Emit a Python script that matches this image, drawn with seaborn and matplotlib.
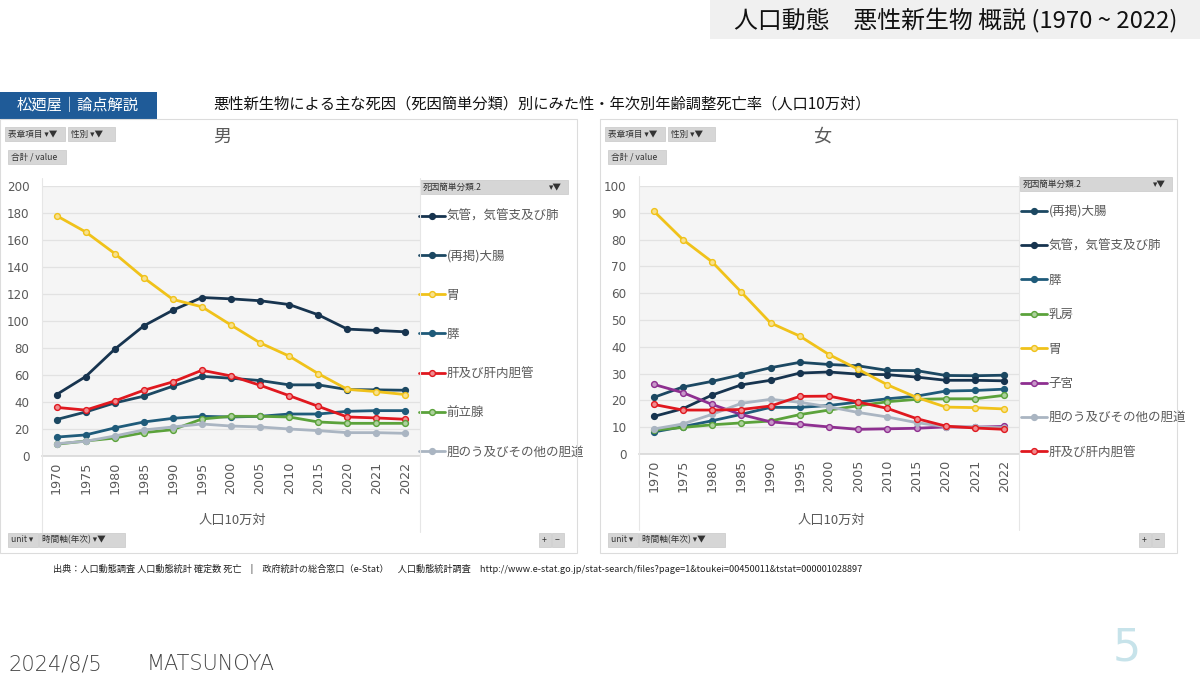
import pandas as pd
import matplotlib
matplotlib.use("Agg")
import matplotlib.pyplot as plt
import matplotlib.colors as mcolors
import seaborn as sns
from matplotlib.patches import Rectangle

# 年次（カテゴリ軸）
years = ["1970", "1975", "1980", "1985", "1990", "1995", "2000",
         "2005", "2010", "2015", "2020", "2021", "2022"]

# 男（人口10万対）
male_lung = [45.5, 58.8, 79.1, 96.4, 108.0, 117.4, 116.4, 115.0, 112.2, 104.6, 94.0, 93.0, 92.0]
male_colon = [27.0, 32.6, 39.3, 44.3, 51.7, 59.0, 57.6, 55.9, 52.7, 52.7, 49.2, 49.0, 48.7]
male_stomach = [178.0, 166.0, 150.0, 132.0, 116.0, 110.5, 97.0, 83.8, 74.0, 61.0, 49.4, 47.7, 45.5]
male_pancreas = [14.0, 15.6, 20.8, 25.2, 27.9, 29.4, 28.9, 29.4, 31.1, 31.1, 33.1, 33.6, 33.6]
male_liver = [36.0, 34.0, 40.8, 48.7, 54.9, 63.5, 59.3, 52.4, 44.7, 36.8, 28.9, 28.2, 27.2]
male_prostate = [8.7, 11.1, 13.3, 17.3, 19.5, 27.4, 29.4, 29.4, 28.9, 25.2, 24.2, 24.2, 24.2]
male_gallbladder = [9.1, 10.9, 14.8, 19.3, 21.5, 23.7, 22.2, 21.5, 20.0, 18.8, 17.3, 17.3, 16.8]

# 女（人口10万対）
female_colon = [21.1, 25.0, 27.1, 29.6, 32.2, 34.2, 33.4, 32.9, 31.2, 31.1, 29.3, 29.2, 29.4]
female_lung = [14.0, 16.9, 22.0, 25.8, 27.5, 30.2, 30.6, 29.8, 29.6, 28.7, 27.5, 27.5, 27.3]
female_pancreas = [8.2, 10.2, 12.4, 14.8, 17.4, 17.4, 18.1, 19.4, 20.6, 21.6, 23.5, 23.7, 24.2]
female_breast = [8.9, 9.9, 10.9, 11.6, 12.3, 14.7, 16.4, 18.0, 19.5, 20.4, 20.6, 20.6, 21.9]
female_stomach = [90.7, 80.0, 71.7, 60.4, 48.9, 44.0, 37.1, 31.6, 25.8, 21.1, 17.5, 17.3, 16.8]
female_uterus = [26.0, 22.9, 18.5, 14.7, 12.0, 11.1, 10.1, 9.2, 9.4, 9.6, 10.1, 10.0, 10.3]
female_gallbladder = [9.3, 11.2, 14.8, 18.9, 20.4, 19.3, 17.6, 15.5, 13.8, 11.7, 10.2, 10.1, 9.8]
female_liver = [18.5, 16.4, 16.4, 16.6, 17.9, 21.5, 21.6, 19.4, 17.0, 13.2, 10.4, 9.7, 9.2]

male_causes = ["気管，気管支及び肺", "(再掲)大腸", "胃", "膵",
               "肝及び肝内胆管", "前立腺", "胆のう及びその他の胆道"]
male_values = [male_lung, male_colon, male_stomach, male_pancreas,
               male_liver, male_prostate, male_gallbladder]
female_causes = ["(再掲)大腸", "気管，気管支及び肺", "膵", "乳房",
                 "胃", "子宮", "胆のう及びその他の胆道", "肝及び肝内胆管"]
female_values = [female_colon, female_lung, female_pancreas, female_breast,
                 female_stomach, female_uterus, female_gallbladder, female_liver]

cause_colors = {
    "気管，気管支及び肺": "#17344f",
    "(再掲)大腸": "#1c4862",
    "膵": "#1f5b7a",
    "胃": "#f0c21a",
    "肝及び肝内胆管": "#e0181f",
    "前立腺": "#5ba23b",
    "乳房": "#5ba23b",
    "子宮": "#8e2f90",
    "胆のう及びその他の胆道": "#aab5c2",
}
hollow = {"胃", "肝及び肝内胆管", "前立腺", "乳房", "子宮"}

sns.set_theme(style="white")
plt.rcParams["font.family"] = ["Noto Sans CJK JP", "DejaVu Sans"]

W, H = 1200, 675
fig = plt.figure(figsize=(12, 6.75), dpi=100)


def fx(px):
    return px / W


def fy(py):
    return 1 - py / H


def rect(x0, y0, x1, y1, **kw):
    fig.patches.append(Rectangle((fx(x0), fy(y1)), fx(x1) - fx(x0), fy(y0) - fy(y1),
                                 transform=fig.transFigure, **kw))


def button(x0, y0, x1, y1, label, size=6.2):
    rect(x0, y0, x1, y1, facecolor="#d6d6d6", edgecolor="#c8c8c8", lw=0.5)
    fig.text(fx(x0 + 3), fy((y0 + y1) / 2), label, fontsize=size, color="#333333",
             va="center", ha="left")


def draw_panel(ax, causes, values, ymax, step, legend_x, legend_top, spacing):
    df = pd.DataFrame({
        "year": years * len(causes),
        "cause": [c for c in causes for _ in years],
        "rate": [v for vals in values for v in vals],
    })
    sns.lineplot(data=df, x="year", y="rate", hue="cause", hue_order=causes,
                 palette=cause_colors, marker="o", markersize=4.2, linewidth=2.0,
                 sort=False, legend=False, ax=ax)
    lines = ax.get_lines()[:len(causes)]
    for ln, c in zip(lines, causes):
        col = cause_colors[c]
        ln.set_markeredgecolor(col)
        ln.set_markeredgewidth(1.0)
        if c in hollow:
            r, g, b = mcolors.to_rgb(col)
            ln.set_markerfacecolor((0.5 + r / 2, 0.5 + g / 2, 0.5 + b / 2))
    ax.set_facecolor("#f5f5f5")
    ax.set_xlim(-0.5, len(years) - 0.5)
    ax.set_ylim(0, ymax)
    ax.set_yticks(range(0, ymax + 1, step))
    ax.grid(axis="y", color="#e2e2e2", lw=0.9)
    ax.grid(axis="x", visible=False)
    for s in ax.spines.values():
        s.set_visible(False)
    ax.spines["bottom"].set_visible(True)
    ax.spines["bottom"].set_color("#d9d9d9")
    ax.set_xlabel("")
    ax.set_ylabel("")
    ax.tick_params(axis="y", length=0, pad=9, labelsize=8.6, labelcolor="#595959")
    ax.tick_params(axis="x", length=0, pad=4, labelsize=9.2, labelcolor="#595959",
                   rotation=90)
    for t in ax.get_xticklabels() + ax.get_yticklabels():
        t.set_fontfamily("DejaVu Sans")
    leg = ax.legend(lines, causes, loc="upper left",
                    bbox_to_anchor=(fx(legend_x), fy(legend_top)),
                    bbox_transform=fig.transFigure, frameon=False, fontsize=9,
                    handlelength=2.1, handletextpad=0.1, labelspacing=spacing,
                    borderaxespad=0, borderpad=0)
    for t in leg.get_texts():
        t.set_color("#595959")


# 上部見出し
rect(710, 0, 1200, 39, facecolor="#f0f0f0", edgecolor="none")
fig.text(fx(956), fy(20), "人口動態　悪性新生物 概説 (1970 ~ 2022)", fontsize=17.2,
         color="#111111", ha="center", va="center")

rect(0, 92, 157, 119, facecolor="#1f5b98", edgecolor="none")
fig.text(fx(78), fy(105), "松廼屋｜論点解説", fontsize=11, color="white",
         ha="center", va="center")
fig.text(fx(213), fy(104), "悪性新生物による主な死因（死因簡単分類）別にみた性・年次別年齢調整死亡率（人口10万対）",
         fontsize=11, color="#111111", ha="left", va="center")

# パネル枠
for x0 in (0, 600):
    rect(x0, 119, x0 + 577, 553, facecolor="none", edgecolor="#dcdcdc", lw=0.8)

# 男
ax_m = fig.add_axes([fx(42), fy(456), fx(420) - fx(42), fy(186) - fy(456)])
draw_panel(ax_m, male_causes, male_values, 200, 20, 419, 210, 2.1)
# 女
ax_f = fig.add_axes([fx(639), fy(454), fx(1019) - fx(639), fy(186) - fy(454)])
draw_panel(ax_f, female_causes, female_values, 100, 10, 1021, 205, 1.71)

for x0, ttl in ((0, "男"), (600, "女")):
    fig.text(fx(x0 + 222), fy(137), ttl, fontsize=13, color="#595959",
             ha="center", va="center")
    button(x0 + 5, 127, x0 + 65, 141, "表章項目 ▾▼")
    button(x0 + 68, 127, x0 + 115, 141, "性別 ▾▼")
    button(x0 + 8, 150, x0 + 66, 164, "合計 / value")
    button(x0 + 8, 533, x0 + 38, 547, "unit ▾")
    button(x0 + 39, 533, x0 + 125, 547, "時間軸(年次) ▾▼")
    button(x0 + 539, 533, x0 + 551, 547, "+")
    button(x0 + 552, 533, x0 + 564, 547, "−")
    fig.text(fx(x0 + 232 + (0 if x0 == 0 else -1)), fy(520), "人口10万対",
             fontsize=9.5, color="#595959", ha="center", va="center")

# グラフ領域の枠線と凡例見出し
for (a, b, top, bot) in ((42, 420, 178, 532), (639, 1019, 176, 530)):
    fig.lines.append(plt.Line2D([fx(a), fx(a)], [fy(top), fy(bot)],
                                transform=fig.transFigure, color="#e6e6e6", lw=0.8))
    fig.lines.append(plt.Line2D([fx(b), fx(b)], [fy(top), fy(bot)],
                                transform=fig.transFigure, color="#e6e6e6", lw=0.8))
button(420, 180, 568, 194, "死因簡単分類.2")
fig.text(fx(562), fy(187), "▾▼", fontsize=6.2, color="#333333", ha="right", va="center")
button(1020, 177, 1172, 191, "死因簡単分類.2")
fig.text(fx(1166), fy(184), "▾▼", fontsize=6.2, color="#333333", ha="right", va="center")

# 出典
fig.text(fx(53), fy(569),
         "出典：人口動態調査 人口動態統計 確定数 死亡　|　政府統計の総合窓口（e-Stat）　人口動態統計調査　"
         "http://www.e-stat.go.jp/stat-search/files?page=1&toukei=00450011&tstat=000001028897",
         fontsize=6.6, color="#222222", ha="left", va="center")

# フッター
fig.text(fx(8), fy(664), "2024/8/5", fontsize=15, color="#444444",
         ha="left", va="center", family=["DejaVu Sans"], fontweight="light")
fig.text(fx(147), fy(664), "MATSUNOYA", fontsize=15, color="#444444",
         ha="left", va="center", family=["DejaVu Sans"], fontweight="light")
fig.text(fx(1127), fy(648), "5", fontsize=32, color="#c7e3ea", ha="center",
         va="center", family=["DejaVu Sans"])

fig.savefig("out.png", dpi=100, facecolor="white")
